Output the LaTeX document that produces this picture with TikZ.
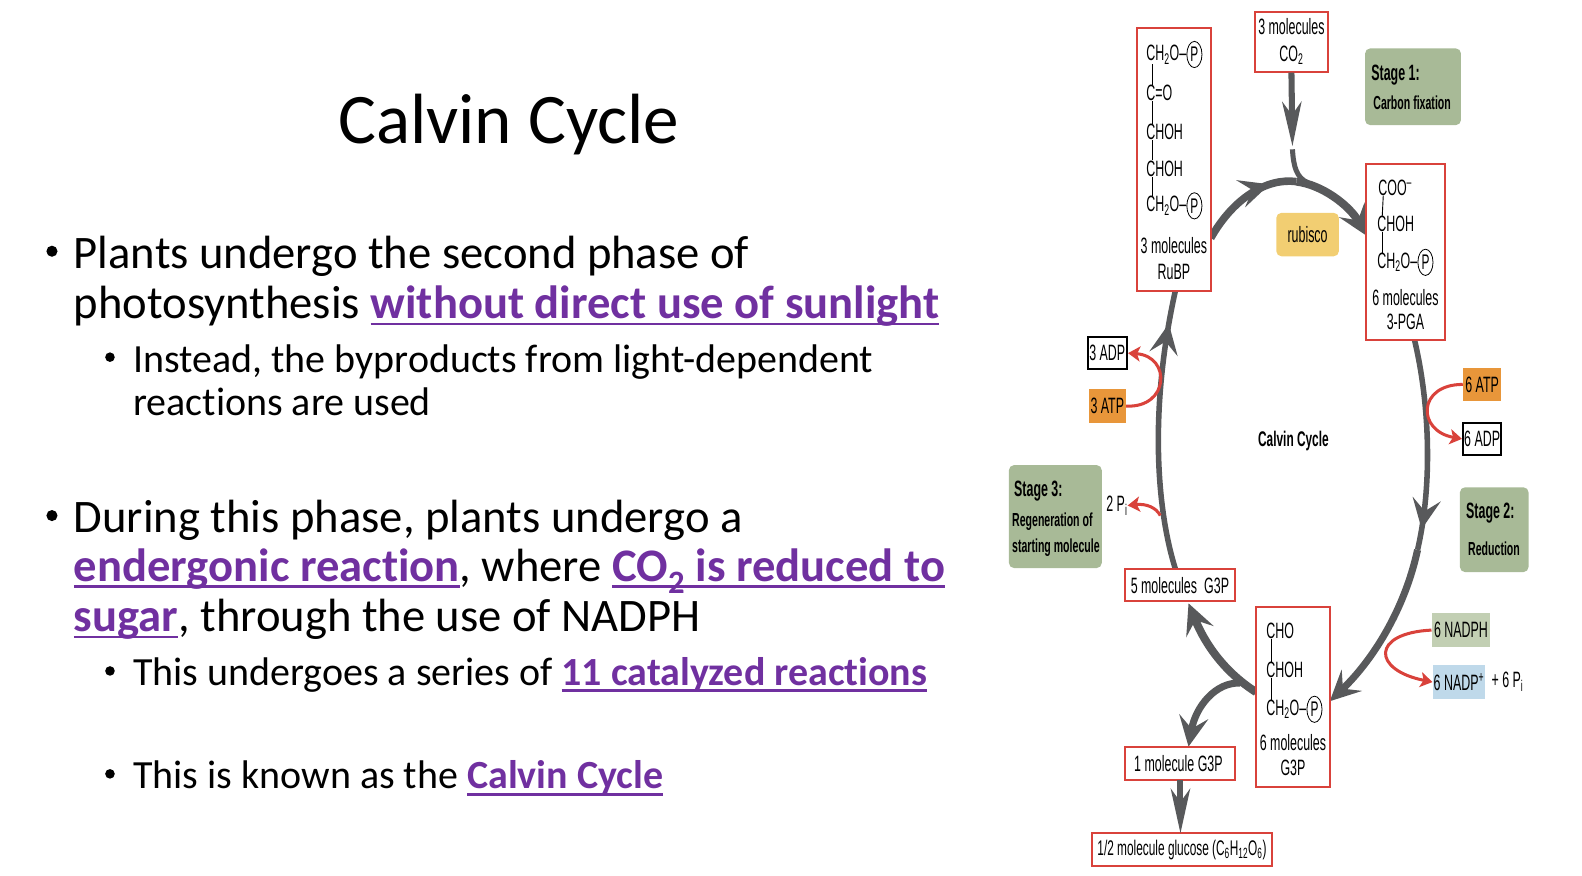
\documentclass[tikz,border=0pt]{standalone}
\usepackage{fontspec}
\usetikzlibrary{arrows.meta,positioning,shapes.geometric,decorations.markings}
\setmainfont[Ligatures=NoCommon]{Carlito}
\newfontfamily\figfont[FakeStretch=0.56]{Liberation Sans}
\definecolor{slidepurple}{HTML}{7030A0}
\definecolor{cyclegray}{HTML}{58595B}
\definecolor{cyclered}{HTML}{D9423B}
\definecolor{stagegreen}{HTML}{A8BA97}
\definecolor{rubiscoyellow}{HTML}{F2CE72}
\definecolor{atporange}{HTML}{E8963A}
\definecolor{nadphgreen}{HTML}{C2CFB3}
\definecolor{nadpblue}{HTML}{BFD9EA}
\newsavebox{\hlbox}
\newcommand{\hl}[1]{\sbox{\hlbox}{\color{slidepurple}\textbf{#1}}\textcolor{slidepurple}{\rlap{\rule[-6.5pt]{\wd\hlbox}{2.6pt}}}\usebox{\hlbox}}
\tikzset{
    title/.style={anchor=base west, inner sep=0, font=\fontsize{70.5}{76}\selectfont},
    big/.style={anchor=base west, inner sep=0, font=\fontsize{46.2}{50}\selectfont},
    small/.style={anchor=base west, inner sep=0, font=\fontsize{39.6}{42}\selectfont},
    dot/.style={circle, fill=black, inner sep=0, minimum size=#1},
    redbox/.style={draw=cyclered, line width=2, fill=white, inner sep=0, align=center, font=\figfont\fontsize{22}{26}\selectfont},
    blackbox/.style={draw=black, line width=2, fill=white, inner sep=0, font=\figfont\fontsize{22}{26}\selectfont},
    tagbox/.style={fill=#1, inner sep=0, font=\figfont\fontsize{22}{26}\selectfont},
    stagebox/.style={fill=stagegreen, rounded corners=5, inner sep=0},
    stagehead/.style={anchor=west, inner sep=0, font=\figfont\bfseries\fontsize{22}{24}\selectfont},
    stagetext/.style={anchor=west, inner sep=0, font=\figfont\bfseries\fontsize{18.7}{22}\selectfont},
    chem/.style={anchor=west, inner sep=0, font=\figfont\fontsize{22}{26}\selectfont},
    label/.style={inner sep=0, font=\figfont\fontsize{22}{26}\selectfont},
    phos/.style={ellipse, draw=black, line width=0.8, inner sep=0, minimum width=15, minimum height=26, font=\figfont\fontsize{21}{26}\selectfont},
    bond/.style={line width=0.9, black},
    gray line/.style={cyclegray, line width=5},
    gray arrow/.style={gray line, -{Stealth[length=30pt, width=29pt, inset=12pt]}},
    feed arrow/.style={gray line, line width=6, -{Stealth[length=44pt, width=19pt, inset=13pt]}},
    red arrow/.style={cyclered, line width=3, -{Stealth[length=12pt, width=15pt, inset=3pt]}},
    midtip/.style={postaction=decorate, decoration={markings, mark=at position #1 with {\arrow{Stealth[length=30pt, width=28pt, inset=12pt]}}}}
}
\begin{document}
\begin{tikzpicture}[x=1pt, y=-1pt]
    \useasboundingbox (0,0) rectangle (1568,868);

    \node[title] (heading) at (335,142) {Calvin Cycle};
    \node[dot=11] (b_1) at (51.5,249) {};
    \node[big] (line_1) at (73,266) {Plants undergo the second phase of};
    \node[big] (line_2) at (73,316) {photosynthesis \hl{without direct use of sunlight}};
    \node[dot=9.5] (b_2) at (109,354) {};
    \node[small] (line_3) at (132,369) {Instead, the byproducts from light-dependent};
    \node[small] (line_4) at (132,412) {reactions are used};
    \node[dot=11] (b_3) at (51.5,511) {};
    \node[big] (line_5) at (73,528) {During this phase, plants undergo a};
    \node[big] (line_6) at (73,576) {\hl{endergonic reaction}, where \hl{CO\textsubscript{2} is reduced to}};
    \node[big] (line_7) at (73,626) {\hl{sugar}, through the use of NADPH};
    \node[dot=9.5] (b_4) at (109,665) {};
    \node[small] (line_8) at (132,679) {This undergoes a series of \hl{11 catalyzed reactions}};
    \node[dot=9.5] (b_5) at (109,767) {};
    \node[small] (line_9) at (132,782) {This is known as the \hl{Calvin Cycle}};

    \coordinate (RuBP_out) at (1200,236);
    \coordinate (arc_top) at (1285,180);
    \coordinate (CO2_end) at (1281,145);
    \coordinate (CO2_stem) at (1281,148);
    \coordinate (PGA_out) at (1402,337);
    \coordinate (right_mid) at (1405,545);
    \coordinate (G3P_in) at (1318,695);
    \coordinate (G3P_out) at (1245,686);
    \coordinate (branch) at (1229,677);
    \coordinate (left_low) at (1165,564);
    \coordinate (left_high) at (1165,288);
    \coordinate (Pi_start) at (1150,511);
    \coordinate (arc_end) at (1355,234);
    \coordinate (five_in) at (1178,598);
    \coordinate (one_in) at (1178,740);
    \coordinate (one_out) at (1170,773);
    \coordinate (glucose_in) at (1170,826);

    \draw[gray line, line width=7.5, midtip=0.75] (RuBP_out) .. controls (1222,197) and (1255,176) .. (arc_top);
    \draw[gray arrow, line width=8] (arc_top) .. controls (1310,183) and (1337,203) .. (arc_end);
    \draw[gray line, line width=5] (CO2_stem) .. controls (1282,165) and (1285,176) .. (1296,181);
    \draw[gray line, line width=5.5, midtip=0.9] (PGA_out) .. controls (1417,400) and (1420,480) .. (right_mid);
    \draw[gray arrow, line width=7] (right_mid) .. controls (1392,605) and (1360,655) .. (G3P_in);
    \draw[gray line, line width=5.5, midtip=0.88] (left_low) .. controls (1145,500) and (1140,400) .. (left_high);
    \draw[gray arrow, line width=8] (G3P_out) .. controls (1215,667) and (1195,640) .. (five_in);
    \draw[gray arrow, line width=7] (branch) .. controls (1205,676) and (1185,700) .. (one_in);

    \node[redbox, minimum width=73, minimum height=260] (RuBP_box) at (1163.5,158) {};
    \node[redbox, minimum width=72, minimum height=59] (CO2_box) at (1280,41.5) {3 molecules\\CO\textsubscript{2}};
    \node[redbox, minimum width=78, minimum height=174] (PGA_box) at (1393,250) {};
    \node[redbox, minimum width=109, minimum height=32] (five_box) at (1169.5,580) {5 molecules\, G3P};
    \node[redbox, minimum width=73, minimum height=178] (G3P_box) at (1281.5,691) {};
    \node[redbox, minimum width=109, minimum height=33] (one_box) at (1169.5,756.5) {1 molecule G3P\hspace{3pt}};
    \node[redbox, minimum width=179, minimum height=32, font=\figfont\fontsize{21}{26}\selectfont] (glucose_box) at (1171.5,842) {1/2 molecule glucose (C\textsubscript{6}H\textsubscript{12}O\textsubscript{6})};

    \draw[feed arrow] (CO2_box.south) -- (CO2_end);
    \draw[feed arrow] (one_out) -- (glucose_in);

    \node[chem] (r_1) at (1136,54) {CH\textsubscript{2}O–};
    \node[phos, right=0 of r_1] (r_p1) {P};
    \node[chem] (r_2) at (1136,92) {C=O};
    \node[chem] (r_3) at (1136,131) {CHOH};
    \node[chem] (r_4) at (1136,167) {CHOH};
    \node[chem] (r_5) at (1136,204) {CH\textsubscript{2}O–};
    \node[phos, right=0 of r_5] (r_p2) {P};
    \node[label] (r_6) at (1163.5,243) {3 molecules};
    \node[label] (r_7) at (1163.5,270) {RuBP};
    \foreach \a/\b in {r_1/r_2, r_2/r_3, r_3/r_4, r_4/r_5}
        \draw[bond] ([xshift=6]\a.south west) -- ([xshift=6]\b.north west);

    \node[chem] (p_1) at (1366,186) {COO\textsuperscript{–}};
    \node[chem] (p_2) at (1365,222) {CHOH};
    \node[chem] (p_3) at (1365,260) {CH\textsubscript{2}O–};
    \node[phos, right=0 of p_3] (p_p1) {P};
    \node[label] (p_4) at (1393,295) {6 molecules};
    \node[label] (p_5) at (1393,319) {3-PGA};
    \foreach \a/\b in {p_1/p_2, p_2/p_3}
        \draw[bond] ([xshift=5]\a.south west) -- ([xshift=5]\b.north west);

    \node[chem] (g_1) at (1255,625) {CHO};
    \node[chem] (g_2) at (1255,664) {CHOH};
    \node[chem] (g_3) at (1255,703) {CH\textsubscript{2}O–};
    \node[phos, right=0 of g_3] (g_p1) {P};
    \node[label] (g_4) at (1281.5,736) {6 molecules};
    \node[label] (g_5) at (1281.5,761) {G3P};
    \foreach \a/\b in {g_1/g_2, g_2/g_3}
        \draw[bond] ([xshift=5]\a.south west) -- ([xshift=5]\b.north west);

    \node[stagebox, minimum width=95, minimum height=76] (stage_1) at (1400.5,86) {};
    \node[stagehead] (stage_1a) at (1359,74) {Stage 1:};
    \node[stagetext] (stage_1b) at (1361,102) {Carbon fixation};
    \node[stagebox, minimum width=68, minimum height=84] (stage_2) at (1481,525) {};
    \node[stagehead] (stage_2a) at (1453,509) {Stage 2:};
    \node[stagetext] (stage_2b) at (1455,544) {Reduction};
    \node[stagebox, minimum width=92, minimum height=102] (stage_3) at (1046,512) {};
    \node[stagehead] (stage_3a) at (1005,487) {Stage 3:};
    \node[stagetext] (stage_3b) at (1003,517) {Regeneration of};
    \node[stagetext] (stage_3c) at (1003,543) {starting molecule};

    \node[tagbox=rubiscoyellow, rounded corners=5, minimum width=62, minimum height=43] (rubisco) at (1296,232.5) {rubisco};
    \node[font=\figfont\bfseries\fontsize{21}{24}\selectfont, inner sep=0] (cycle) at (1282,437) {Calvin Cycle};

    \node[blackbox, minimum width=39, minimum height=32] (ADP_3) at (1097.5,350) {3 ADP};
    \node[tagbox=atporange, minimum width=37, minimum height=33] (ATP_3) at (1097.5,402.5) {3 ATP};
    \node[tagbox=atporange, minimum width=38, minimum height=32] (ATP_6) at (1469,381) {6 ATP};
    \node[blackbox, minimum width=38, minimum height=32] (ADP_6) at (1469,435) {6 ADP};
    \node[tagbox=nadphgreen, minimum width=58, minimum height=33] (NADPH) at (1448,624.5) {6 NADPH};
    \node[tagbox=nadpblue, minimum width=52, minimum height=34] (NADP) at (1446,676) {6 NADP\textsuperscript{+}};
    \node[label, right=6 of NADP] (NADP_Pi) {+ 6 P\textsubscript{i}};
    \node[label] (Pi_2) at (1107,501) {2 P\textsubscript{i}};

    \draw[red arrow] (ATP_3.east) .. controls +(43,2) and +(43,3) .. (ADP_3.east);
    \draw[red arrow] (ATP_6.west) .. controls +(-45,0) and +(-45,-8) .. (ADP_6.west);
    \draw[red arrow] (NADPH.west) .. controls +(-60,3) and +(-60,-12) .. (NADP.west);
    \draw[red arrow] (Pi_start) .. controls (1146,503) and (1136,499) .. (Pi_2.east);
\end{tikzpicture}
\end{document}
